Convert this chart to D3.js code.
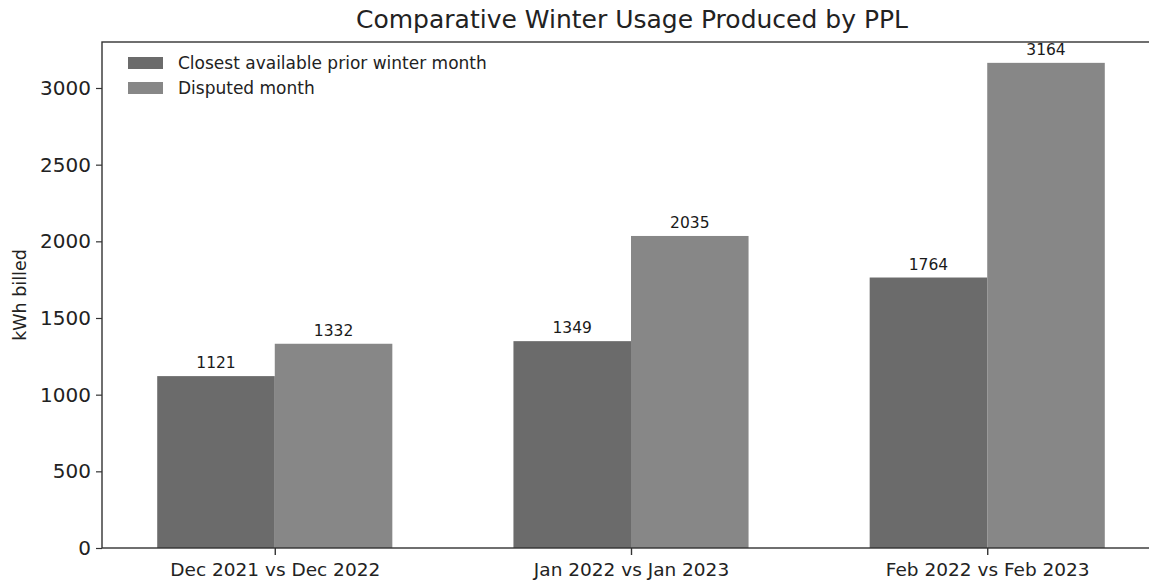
<!DOCTYPE html>
<html>
<head>
<meta charset="utf-8">
<script src="https://cdn.jsdelivr.net/npm/d3@7"></script>
<style>
  html, body { margin: 0; padding: 0; background: #ffffff; }
  svg { display: block; font-family: "DejaVu Sans", sans-serif; }
</style>
</head>
<body>
<svg id="chart" width="1149" height="586"></svg>
<script>
const categories = ["Dec 2021 vs Dec 2022", "Jan 2022 vs Jan 2023", "Feb 2022 vs Feb 2023"];
const seriesNames = ["Closest available prior winter month", "Disputed month"];
const priorValues = [1121, 1349, 1764];
const disputedValues = [1332, 2035, 3164];
const yTicks = [0, 500, 1000, 1500, 2000, 2500, 3000];
const seriesColors = ["#6b6b6b", "#878787"];

const svg = d3.select("#chart");
const plotLeft = 102, plotRight = 1160, plotTop = 42, plotBottom = 548;

const x = d3.scaleLinear().domain([-0.485, 2.485]).range([plotLeft, plotRight]);
const y = d3.scaleLinear().domain([0, 3300]).range([plotBottom, plotTop]);
const barW = 0.33;

const series = [priorValues, disputedValues];

// bars
series.forEach((vals, s) => {
  const offset = s === 0 ? -barW : 0;
  svg.append("g").selectAll("rect").data(vals).join("rect")
    .attr("x", (d, i) => x(i + offset))
    .attr("width", x(barW) - x(0))
    .attr("y", d => y(d))
    .attr("height", d => y(0) - y(d))
    .attr("fill", seriesColors[s]);
  svg.append("g").selectAll("text").data(vals).join("text")
    .attr("x", (d, i) => x(i + offset + barW / 2))
    .attr("y", d => y(d) - 8)
    .attr("text-anchor", "middle")
    .attr("font-size", "15.5px")
    .attr("fill", "#1a1a1a")
    .text(d => d);
});

// y axis
const yAxis = d3.axisLeft(y).tickValues(yTicks).tickSize(6).tickPadding(5).tickFormat(d3.format("d"));
const gy = svg.append("g").attr("transform", `translate(${plotLeft},0)`).call(yAxis);
gy.select(".domain").remove();
gy.selectAll("text").attr("font-size", "20px").attr("fill", "#222").attr("font-family", "DejaVu Sans, sans-serif");
gy.selectAll("line").attr("stroke", "#333").attr("stroke-width", 1.2);

// x axis
const xAxis = d3.axisBottom(x).tickValues([0, 1, 2]).tickSize(7).tickPadding(8).tickFormat(i => categories[i]);
const gx = svg.append("g").attr("transform", `translate(0,${plotBottom})`).call(xAxis);
gx.select(".domain").remove();
gx.selectAll("text").attr("font-size", "18.5px").attr("fill", "#222").attr("font-family", "DejaVu Sans, sans-serif");
gx.selectAll("line").attr("stroke", "#333").attr("stroke-width", 1.4);

// spines
svg.append("rect")
  .attr("x", plotLeft).attr("y", plotTop)
  .attr("width", plotRight - plotLeft).attr("height", plotBottom - plotTop)
  .attr("fill", "none").attr("stroke", "#333").attr("stroke-width", 1.4);

// title
svg.append("text")
  .attr("x", (plotLeft + plotRight) / 2 + 1).attr("y", 28)
  .attr("text-anchor", "middle")
  .attr("font-size", "25px").attr("fill", "#222")
  .text("Comparative Winter Usage Produced by PPL");

// y label
svg.append("text")
  .attr("transform", `translate(26,${(plotTop + plotBottom) / 2}) rotate(-90)`)
  .attr("text-anchor", "middle")
  .attr("font-size", "17.5px").attr("fill", "#222")
  .text("kWh billed");

// legend
const legend = svg.append("g").attr("transform", "translate(128,63)");
seriesNames.forEach((name, s) => {
  const g = legend.append("g").attr("transform", `translate(0,${s * 25})`);
  g.append("rect").attr("x", 0).attr("y", -6).attr("width", 35).attr("height", 12).attr("fill", seriesColors[s]);
  g.append("text").attr("x", 50).attr("y", 6).attr("font-size", "17px").attr("fill", "#222").text(name);
});
</script>
</body>
</html>
